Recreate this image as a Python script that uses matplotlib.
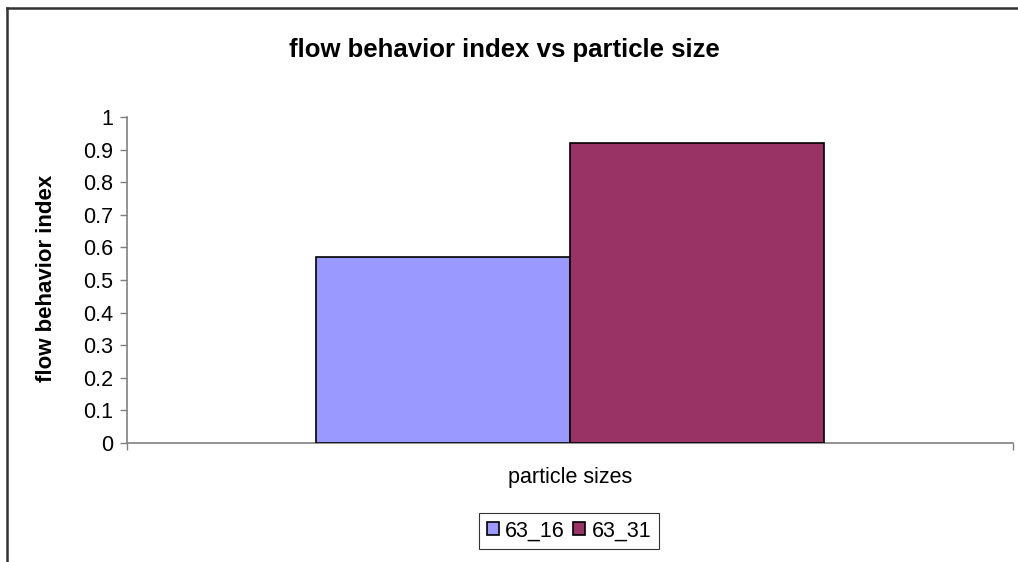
import matplotlib
matplotlib.use("Agg")
from matplotlib import pyplot as plt
from matplotlib.lines import Line2D
from matplotlib.patches import Patch
import numpy as np

plt.rcParams["font.family"] = ["Liberation Sans", "DejaVu Sans"]

# data
series_names = ["63_16", "63_31"]
series_values = [0.57, 0.92]
series_colors = ["#9999FF", "#993366"]
category_label = "particle sizes"
y_ticks = [0, 0.1, 0.2, 0.3, 0.4, 0.5, 0.6, 0.7, 0.8, 0.9, 1]

W, H = 1018, 562
fig = plt.figure(figsize=(W / 100, H / 100), dpi=100)
ax = fig.add_axes([127 / W, 1 - 443 / H, (1013 - 127) / W, (443 - 117) / H])

bar_w = 253.5 / 886
offsets = (np.arange(len(series_values)) - (len(series_values) - 1) / 2) * bar_w
for off, v, c, name in zip(offsets, series_values, series_colors, series_names):
    ax.bar(off, v, width=bar_w, color=c, edgecolor="black", linewidth=1.2, label=name, zorder=3)

ax.set_xlim(-0.5, 0.5)
ax.set_ylim(0, 1)
ax.set_yticks(y_ticks)
ax.set_yticklabels([f"{t:g}" for t in y_ticks], fontsize=15.5)
ax.set_xticks([-0.5, 0.5])
ax.set_xticklabels(["", ""])
ax.tick_params(axis="both", direction="out", length=5, width=1, color="#808080", pad=5)

for s in ["top", "right"]:
    ax.spines[s].set_visible(False)
for s in ["left", "bottom"]:
    ax.spines[s].set_color("#808080")
    ax.spines[s].set_linewidth(1.2)

fig.text(504 / W, 1 - 50 / H, "flow behavior index vs particle size", ha="center", va="center",
         fontsize=18.5, fontweight="bold")
fig.text(47 / W, 1 - 278 / H, "flow behavior index", ha="center", va="center", rotation=90,
         fontsize=16, fontweight="bold")
fig.text(570 / W, 1 - 478 / H, category_label, ha="center", va="center", fontsize=15.5)

handles = [Patch(facecolor=c, edgecolor="black", linewidth=1.2) for c in series_colors]
leg = fig.legend(handles, series_names, loc="center", bbox_to_anchor=(569 / W, 1 - 531 / H),
                 ncol=2, fontsize=15.5, frameon=True, fancybox=False, handlelength=0.55,
                 handleheight=0.55, handletextpad=0.3, columnspacing=0.4, borderpad=0.35)
leg.get_frame().set_edgecolor("black")
leg.get_frame().set_linewidth(0.8)

# chart area border (only top and left visible)
fig.add_artist(Line2D([7 / W, 1], [1 - 8 / H, 1 - 8 / H], color="#333333", linewidth=1.8,
                      transform=fig.transFigure))
fig.add_artist(Line2D([7 / W, 7 / W], [1 - 8 / H, 0], color="#333333", linewidth=1.8,
                      transform=fig.transFigure))

fig.savefig("out.png", dpi=100)
